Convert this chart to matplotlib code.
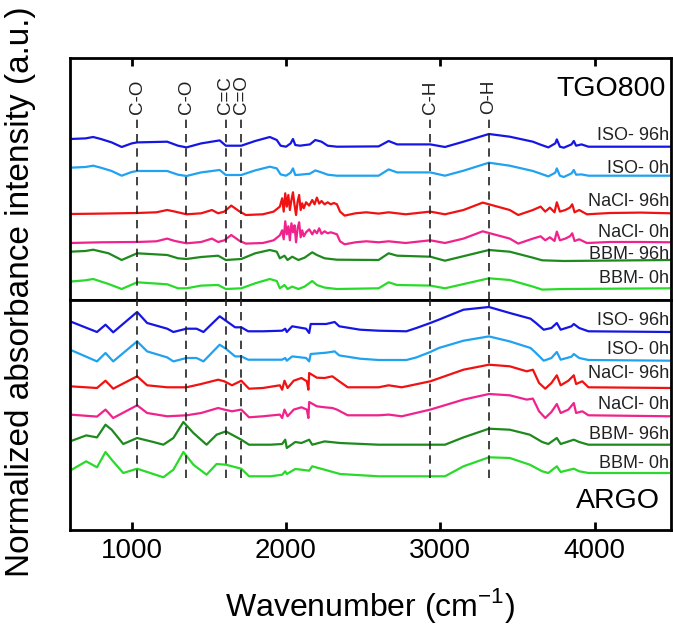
import numpy as np
import matplotlib
matplotlib.use('Agg')
import matplotlib.pyplot as plt

plt.rcParams['font.family'] = ['Liberation Sans', 'DejaVu Sans']
plt.rcParams['mathtext.fontset'] = 'custom'
plt.rcParams['mathtext.rm'] = 'Liberation Sans'

names = ['ISO- 96h', 'ISO- 0h', 'NaCl- 96h', 'NaCl- 0h', 'BBM- 96h', 'BBM- 0h']
colors = ['#1616e4', '#20a2f0', '#f01212', '#f0228c', '#1e8a1e', '#2ada2a']

# band positions (cm-1) and labels
bands = [1035, 1355, 1610, 1710, 2935, 3315]
band_labels = ['C-O', 'C-O', 'C=C', 'C=O', 'C-H', 'O-H']

# ---- TGO800 (top panel) ----
wn_iso_top = [600, 700, 750, 800, 870, 935, 1000, 1035, 1230, 1300, 1355, 1450, 1570, 1610, 1710,
              1800, 1895, 1940, 1965, 2000, 2030, 2045, 2060, 2090, 2155, 2190, 2230, 2270, 2330,
              2600, 2665, 2720, 2935, 3030, 3150, 3315, 3450, 3600, 3645, 3700, 3745, 3755, 3775,
              3800, 3850, 3865, 3880, 3915, 3960, 4495]
iso96_top = [7.7, 8.3, 9.7, 7.7, 4.3, -0.3, 3.3, 4.3, 5.0, 1.0, -0.7, 3.3, 6.3, 1.0, 1.0,
             5.7, 9.7, 6.7, 1.0, 0.0, 3.3, 7.7, 1.7, 1.0, 2.3, 6.7, 5.0, 1.0, 0.0,
             0.3, 5.7, 2.3, 2.3, -0.3, 5.0, 12.7, 10.0, 5.0, 2.3, -0.7, 3.3, 7.3, 0.0,
             -1.0, 2.3, 5.7, 1.0, 2.3, 0.0, 0.0]
iso0_top = [8, 8.7, 10, 8, 4.7, 0, 3.7, 4.7, 4.7, 1, -0.3, 3.3, 5.7, 0.7, 0.7,
            5.3, 9, 7.3, 1.3, 0, 3, 7.3, 0.7, 1, 2, 5.3, 3.3, 1, 0,
            0, 6.3, 3.3, 3.3, 0, 5, 13, 10, 4.7, 2.3, -0.7, 3, 7.3, 0,
            -1.3, 2.3, 5.7, 1, 1.3, 0, 0]

wn_nacl_top = [600, 800, 1035, 1160, 1230, 1280, 1355, 1450, 1520, 1560, 1600, 1645, 1700, 1740,
               1850, 1920, 1960,
               1975, 1985, 1995, 2005, 2015, 2025, 2035, 2045, 2055, 2065, 2075, 2085, 2095, 2105, 2115,
               2130, 2150, 2170, 2185, 2200, 2215, 2230, 2250, 2270, 2290, 2310, 2330,
               2350, 2380, 2450, 2520,
               2600, 2665, 2775, 2935, 3030, 3150, 3275, 3315, 3450, 3505,
               3600, 3650, 3680, 3710, 3740, 3755, 3775, 3810, 3840, 3855, 3870, 3900, 3950,
               4100, 4300, 4495]
nacl96_top = [-0.7, -0.3, 0.3, 1, 3.3, 1.7, -1, 0, 3.3, 0, 1.7, 7.7, 1.7, -1.7,
              -1, 1.7, 6.7,
              15, 1.7, 20, 6.7, 18.3, 3.3, 13.3, 21, 8.3, -1.7, 11.7, 18.3, 3.3, 10, 5,
              11, 7.7, 13.3, 9, 15.7, 9.7, 12.3, 9, 11, 9, 10.3, 9,
              1.7, -2.3, 0, 1,
              -0.3, 1, -1, 1.7, -1, 3.3, 10.7, 9, 3.3, -1.7,
              3.3, 6.7, 1.7, 5.7, 1, 11, 1.7, 3.3, 5.7, 9, 1, 3.3, -1,
              0.3, 0.7, 0]
nacl0_top = [-0.7, 0, 0.3, 1, 3.7, 1.3, -1, 0.3, 3.7, 0.3, 2, 7.3, 1.3, -1.3,
             -0.7, 2, 7,
             12, 3, 21, 8, 16, 2, 19, 10, 17, 0, 14, 20, 5, 12, 6,
             10, 13, 8, 12, 9, 14, 8.5, 11, 9, 10, 9, 8,
             1, -2, 0, 1,
             0, 1, -0.7, 2, -0.7, 3.7, 11, 9.3, 3.7, -1.3,
             3.7, 6, 2, 5, 1.3, 10.7, 2, 3.7, 6, 9, 1.3, 3, -0.7,
             0.3, 0.3, 0]

wn_bbm_top = [600, 700, 750, 850, 935, 1035, 1230, 1300, 1355, 1450, 1560, 1610, 1710, 1800, 1895,
              1940, 1960, 1990, 2010, 2040, 2080, 2120, 2170, 2200, 2250, 2330, 2600, 2665, 2720,
              2935, 3030, 3315, 3450, 3600, 3660, 3800, 4495]
bbm96_top = [8.3, 9, 10.3, 6.7, 0, 6.7, 5, 1.7, 1, 3, 4.3, 0, 1, 6.7, 10,
             8.3, 1.7, 4.3, 0, 3.3, 0, 2.3, 7.7, 5, 1.7, 0.3, 0, 6.7, 4.3,
             3.3, -0.7, 10, 8.3, 2.3, -0.3, -1, 0]
bbm0_top = [6.7, 8, 9.3, 4.3, -0.7, 6, 4, 0, 0, 2.7, 3.3, -0.7, 0, 5, 9.3,
            7.3, 0, 3.3, -0.7, 1.7, -0.7, 1.7, 7.3, 3.3, 0.7, -0.7, 0, 6, 3.3,
            2.7, 0, 10, 8.3, 1.7, -1.3, -0.7, 0]

# ---- ARGO (bottom panel) ----
wn_iso_bot = [600, 665, 775, 830, 880, 1035, 1100, 1230, 1270, 1355, 1420, 1465, 1570, 1610, 1670,
              1710, 1755, 1850, 1975, 1995, 2005, 2040, 2130, 2150, 2160, 2260, 2315, 2345, 2480, 2600,
              2780, 2845, 2935, 2990, 3150, 3315, 3450, 3585, 3620, 3670, 3720, 3755, 3780, 3850, 3865,
              3900, 3960, 4495]
iso96_bot = [10.7, 6.7, 0, 7.3, -0.3, 20, 9, 3.3, 0, 3.3, 3.3, 0, 15.7, 11.3, 4.7,
             4.7, 0.7, 0.7, 1.3, 3.3, 0, 5.7, 3.3, -1, 8, 8, 10, 5.7, 2.3, 1.3,
             0.7, 4, 9, 12.3, 22.3, 25, 19, 13.3, 9, 2.3, 4, 9, 2.3, 5.7, 8,
             4, 0.7, 0]
iso0_bot = [11, 6.7, -0.7, 7.7, -0.7, 19.3, 9.3, 3.3, -0.7, 2.7, 2.7, -0.7, 16, 12, 4.3,
            4.3, 1, 1, 1, 2.7, 0, 4.3, 2.7, -0.7, 6.7, 8, 9.3, 5.3, 2, 0.7,
            0.7, 3.3, 8.7, 12.7, 20, 24.3, 19.3, 12.7, 7.7, 0, 2.7, 8.7, 1, 4, 6.7,
            2.7, 0.7, 0]

wn_nacl_bot = [600, 775, 830, 880, 1035, 1100, 1230, 1355, 1450, 1560, 1600, 1650, 1710, 1760, 1850,
               1960, 1975, 1990, 2010, 2050, 2100, 2135, 2145, 2150, 2200, 2250, 2300, 2330, 2400, 2600,
               2665, 2750, 2935, 3150, 3315, 3450, 3560, 3600, 3640, 3680, 3720, 3755, 3780, 3830, 3865,
               3880, 3920, 3960, 4495]
nacl96_bot = [1.7, 0, 7.3, -0.7, 11.7, 2.7, 0.7, 0.7, 4, 8.3, 6.7, 2.7, 7.3, -0.7, 0,
              2.7, -1.7, 7.3, 0, 7.3, 10, 6.7, -1.7, 15, 10.3, 10, 11.7, 8.3, 0.7, 0.7,
              2.7, 0.7, 6.7, 18.3, 23.3, 21.7, 16.7, 18.3, 5, -0.7, 5, 12.7, 2.7, 7.3, 12.7,
              4, 6.7, 0.7, 0]
nacl0_bot = [1.7, -0.3, 6.7, -1.7, 11, 3.3, 0, 1, 3.3, 8.3, 6.7, 5, 6.7, -1, 0,
             1.7, -1.7, 6.7, 0, 6.7, 9, 6.7, -1.7, 14.3, 10, 9, 8.3, 6.7, 1, 1,
             1.7, 0, 6.7, 16.7, 22.3, 21, 16.7, 17.7, 5, -1.7, 4.3, 12.3, 3.3, 6.7, 13.3,
             3.3, 5, 1, 0]

wn_bbm_bot = [600, 705, 775, 830, 870, 945, 1035, 1140, 1205, 1270, 1335, 1400, 1485, 1550, 1610,
              1710, 1760, 1900, 1975, 1995, 2005, 2060, 2100, 2150, 2170, 2250, 2350, 2600, 3030, 3150,
              3315, 3450, 3580, 3660, 3700, 3755, 3780, 3865, 3900, 3960, 4495]
bbm96_bot = [3.3, 9.3, 7.3, 20, 15, 0.7, 6.7, 2.7, 0, 6.7, 22.7, 11.7, 0, 10, 13.3,
             5, 0, 0, 0.7, 5, -3.3, 2.7, 1.7, 5, 0, 3.3, 1.7, 0, 0, 7.3,
             16, 15, 10, 2.7, 0.7, 6.7, 0.7, 5, 2.7, 0, 0]
bbm0_bot = [2.3, 11.7, 5.7, 21, 13.3, 0, 4.3, -1, -4.3, 3.3, 21, 8.3, -1.7, 9, 8.3,
            4.3, -3.3, -3.3, -1.7, 1.7, -1, 4, 3.3, 2.3, 6.7, 3.3, -1, -3.3, -3.3, 6.7,
            15.7, 15, 8.3, 1.7, 0, 6.7, 1, 4.3, 1.7, 0, 0]

top_series = [(wn_iso_top, iso96_top), (wn_iso_top, iso0_top), (wn_nacl_top, nacl96_top),
              (wn_nacl_top, nacl0_top), (wn_bbm_top, bbm96_top), (wn_bbm_top, bbm0_top)]
bot_series = [(wn_iso_bot, iso96_bot), (wn_iso_bot, iso0_bot), (wn_nacl_bot, nacl96_bot),
              (wn_nacl_bot, nacl0_bot), (wn_bbm_bot, bbm96_bot), (wn_bbm_bot, bbm0_bot)]

# vertical stacking
top_offsets = [153.3, 124.3, 86.7, 57.7, 40.0, 11.7]
bot_offsets = [198.0, 169.3, 142.0, 113.7, 85.3, 57.0]
top_label_dy = [11.7, 7.4, 12.3, 10.0, 5.7, 10.0]
bot_label_dy = [11.3, 11.0, 14.0, 11.6, 10.0, 9.0]

W, H = 673, 624
fig = plt.figure(figsize=(W / 100, H / 100), dpi=100)
x0, x1 = 70, 671
ax_top = fig.add_axes([x0 / W, 1 - 300 / H, (x1 - x0) / W, (300 - 58) / H])
ax_bot = fig.add_axes([x0 / W, 1 - 530 / H, (x1 - x0) / W, (530 - 300) / H])

xlim = (600, 4495)
for ax, series, offs, dys, ymax in [(ax_top, top_series, top_offsets, top_label_dy, 242),
                                    (ax_bot, bot_series, bot_offsets, bot_label_dy, 230)]:
    for (wn, val), off, dy, c, name in zip(series, offs, dys, colors, names):
        ax.plot(wn, np.array(val) + off, color=c, lw=1.6, solid_joinstyle='round')
        ax.text(0.997, off + dy, name, transform=ax.get_yaxis_transform(),
                ha='right', va='center', fontsize=13, color='#222222')
    ax.set_xlim(*xlim)
    ax.set_ylim(0, ymax)
    ax.set_yticks([])
    for s in ax.spines.values():
        s.set_linewidth(2)
    ax.set_xticks([1000, 2000, 3000, 4000])

# dashed band markers
dash = dict(color='#222222', lw=1.2, linestyles=(0, (5, 3.6)), zorder=5)
ax_top.vlines(bands, 0, 182, **dash)
ax_bot.vlines(bands, 52, 230, **dash)
for b, lab in zip(bands, band_labels):
    ax_top.text(b, 186, lab, rotation=90, ha='center', va='bottom', fontsize=13.5,
                color='#222222')

ax_top.xaxis.set_ticks_position('top')
ax_top.tick_params(axis='x', direction='in', length=6, width=2, labeltop=False, labelbottom=False)
ax_bot.tick_params(axis='x', direction='in', length=6, width=2, labelsize=20, pad=6)

ax_top.text(0.992, 0.87, 'TGO800', transform=ax_top.transAxes, ha='right', va='center',
            fontsize=20.5)
ax_bot.text(0.982, 0.125, 'ARGO', transform=ax_bot.transAxes, ha='right', va='center',
            fontsize=20.5)

fig.text(0.55, 0.03, r'Wavenumber (cm$^{\mathregular{-1}}$)', ha='center', va='center',
         fontsize=23)
fig.text(0.031, 0.533, 'Normalized absorbance intensity (a.u.)', rotation=90,
         ha='center', va='center', fontsize=24)

fig.savefig('out.png', dpi=100)
